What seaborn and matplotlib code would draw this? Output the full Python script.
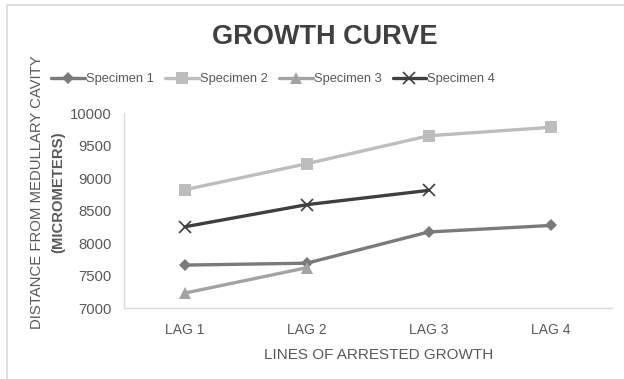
import matplotlib
matplotlib.use("Agg")
import matplotlib.pyplot as plt
from matplotlib.patches import Rectangle
import numpy as np
import pandas as pd
import seaborn as sns

# Data
lags = ["LAG 1", "LAG 2", "LAG 3", "LAG 4"]
specimen_1 = [7660, 7690, 8170, 8270]
specimen_2 = [8820, 9220, 9650, 9780]
specimen_3 = [7230, 7620, np.nan, np.nan]
specimen_4 = [8250, 8590, 8810, np.nan]
series_names = ["Specimen 1", "Specimen 2", "Specimen 3", "Specimen 4"]
y_ticks = [7000, 7500, 8000, 8500, 9000, 9500, 10000]

series = [specimen_1, specimen_2, specimen_3, specimen_4]
df = pd.DataFrame(
    [(lag, name, v) for name, vals in zip(series_names, series) for lag, v in zip(lags, vals)],
    columns=["lag", "specimen", "value"],
)
df["pos"] = df["lag"].map({l: i for i, l in enumerate(lags)})

colors = {"Specimen 1": "#7a7a7a", "Specimen 2": "#bdbdbd",
          "Specimen 3": "#a3a3a3", "Specimen 4": "#3f3f3f"}
markers = {"Specimen 1": "D", "Specimen 2": "s", "Specimen 3": "^", "Specimen 4": "x"}
msizes = {"Specimen 1": 6, "Specimen 2": 8, "Specimen 3": 8, "Specimen 4": 8}

sns.set_theme(style="white")
plt.rcParams["font.family"] = ["Liberation Sans", "DejaVu Sans"]

fig = plt.figure(figsize=(6.24, 3.79), dpi=100)
ax = fig.add_axes([0.1987, 0.1873, 0.7813, 0.5145])

for name in series_names:
    sub = df[df["specimen"] == name].dropna()
    sns.lineplot(data=sub, x="pos", y="value", ax=ax, color=colors[name],
                 marker=markers[name], markersize=msizes[name],
                 markeredgecolor=colors[name], markeredgewidth=1.2 if name == "Specimen 4" else 0,
                 linewidth=2.4, label=name, legend=False, sort=False)

ax.set_xlim(-0.5, 3.5)
ax.set_ylim(7000, 10000)
ax.set_xticks(range(len(lags)))
ax.set_xticklabels(lags)
ax.set_yticks(y_ticks)
ax.tick_params(axis="x", length=0, labelsize=10, labelcolor="#595959", pad=11)
ax.tick_params(axis="y", length=0, labelsize=10.7, labelcolor="#595959", pad=9)
for side in ["top", "right"]:
    ax.spines[side].set_visible(False)
for side in ["left", "bottom"]:
    ax.spines[side].set_color("#d9d9d9")
    ax.spines[side].set_linewidth(1.0)
ax.set_xlabel("LINES OF ARRESTED GROWTH", fontsize=11, color="#595959")
ax.xaxis.set_label_coords(0.5216, -0.205)
ax.set_ylabel("")

# Two-line y label, second line bold
fig.text(0.059, 0.493, "DISTANCE FROM MEDULLARY CAVITY", rotation=90,
         ha="center", va="center", fontsize=10.7, color="#595959")
fig.text(0.094, 0.493, "(MICROMETERS)", rotation=90, fontweight="bold",
         ha="center", va="center", fontsize=10.7, color="#595959")

fig.text(0.521, 0.903, "GROWTH CURVE", ha="center", va="center",
         fontsize=19.5, fontweight="bold", color="#404040")

handles, labels = ax.get_legend_handles_labels()
fig.legend(handles, labels, loc="center left", bbox_to_anchor=(0.068, 0.791),
           ncol=4, frameon=False, fontsize=9.3, labelcolor="#595959",
           handlelength=2.6, handletextpad=0.1, columnspacing=0.85,
           borderpad=0.2)

# Outer chart frame
fig.patches.append(Rectangle((7 / 624, -0.1), 1.2, 1 - 5 / 379 + 0.1,
                             transform=fig.transFigure, fill=False,
                             edgecolor="#d9d9d9", linewidth=1.2))

fig.savefig("out.png", dpi=100)
